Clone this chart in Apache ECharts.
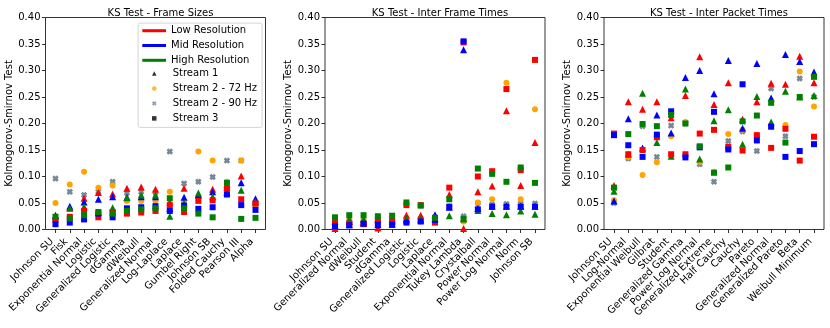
<!DOCTYPE html>
<html>
<head>
<meta charset="utf-8">
<script src="https://cdn.jsdelivr.net/npm/echarts@6/dist/echarts.min.js"></script>
<style>
html, body { margin: 0; padding: 0; background: #fff; }
#eChart { width: 830px; height: 328px; }
</style>
</head>
<body>
<div id="eChart"></div>
<script>
// --- Frame Sizes ---
var fsCats = ['Johnson SU', 'Fisk', 'Exponential Normal', 'Logistic', 'Generalized Logistic', 'dGamma', 'dWeibull',
  'Generalized Normal', 'Log-Laplace', 'Laplace', 'Gumbel Right', 'Johnson SB', 'Folded Cauchy', 'Pearson III', 'Alpha'];
var fsLowS1  = [0.025, 0.041, 0.059, 0.070, 0.067, 0.078, 0.080, 0.076, 0.052, 0.078, 0.064, 0.076, 0.080, 0.101, 0.055];
var fsLowS3  = [0.018, 0.024, 0.035, 0.023, 0.033, 0.030, 0.032, 0.035, 0.046, 0.033, 0.054, 0.055, 0.077, 0.057, 0.049];
var fsMidS1  = [0.027, 0.044, 0.052, 0.057, 0.062, 0.061, 0.062, 0.062, 0.040, 0.061, 0.066, 0.071, 0.070, 0.088, 0.058];
var fsMidS3  = [0.010, 0.013, 0.019, 0.030, 0.023, 0.040, 0.042, 0.044, 0.035, 0.045, 0.039, 0.042, 0.066, 0.046, 0.037];
var fsHighS1 = [0.024, 0.040, 0.043, 0.032, 0.041, 0.060, 0.065, 0.065, 0.025, 0.050, 0.069, 0.062, 0.085, 0.074, 0.052];
var fsHighS3 = [0.024, 0.021, 0.027, 0.033, 0.030, 0.035, 0.038, 0.040, 0.059, 0.040, 0.030, 0.023, 0.088, 0.020, 0.022];
var fs72Hz   = [0.050, 0.085, 0.109, 0.079, 0.083, 0.054, 0.054, 0.054, 0.071, 0.052, 0.147, 0.130, 0.090, 0.130, 0.045];
var fs90Hz   = [0.096, 0.071, 0.065, 0.071, 0.090, 0.069, 0.071, 0.070, 0.147, 0.087, 0.090, 0.099, 0.130, 0.130, 0.045];

// --- Inter Frame Times ---
var iftCats = ['Johnson SU', 'Generalized Normal', 'dWeibull', 'Student', 'dGamma', 'Generalized Logistic', 'Logistic',
  'Laplace', 'Exponential Normal', 'Tukey Lambda', 'Crystalball', 'Power Normal', 'Power Log Normal', 'Norm', 'Johnson SB'];
var iftLowS1  = [0.002, 0.015, 0.014, 0.003, 0.015, 0.027, 0.027, 0.022, 0.066, 0.002, 0.071, 0.082, 0.224, 0.083, 0.164];
var iftLowS3  = [0.012, 0.011, 0.010, 0.017, 0.016, 0.046, 0.046, 0.013, 0.079, 0.353, 0.100, 0.110, 0.265, 0.112, 0.320];
var iftMidS1  = [0.008, 0.009, 0.012, 0.009, 0.010, 0.018, 0.018, 0.028, 0.042, 0.339, 0.040, 0.044, 0.044, 0.044, 0.044];
var iftMidS3  = [0.006, 0.008, 0.011, 0.009, 0.009, 0.013, 0.015, 0.018, 0.043, 0.355, 0.038, 0.043, 0.043, 0.043, 0.043];
var iftHighS1 = [0.015, 0.020, 0.020, 0.020, 0.020, 0.020, 0.020, 0.020, 0.026, 0.020, 0.036, 0.030, 0.028, 0.035, 0.029];
var iftHighS3 = [0.023, 0.027, 0.027, 0.025, 0.026, 0.051, 0.045, 0.022, 0.057, 0.020, 0.115, 0.105, 0.090, 0.117, 0.088];
var ift72Hz   = [0.016, 0.019, 0.019, 0.017, 0.022, 0.022, 0.021, 0.024, 0.044, 0.015, 0.051, 0.057, 0.277, 0.057, 0.227];
var ift90Hz   = [0.012, 0.013, 0.013, 0.013, 0.014, 0.018, 0.019, 0.018, 0.041, 0.025, 0.050, 0.047, 0.048, 0.049, 0.049];

// --- Inter Packet Times ---
var iptCats = ['Johnson SU', 'Log-Normal', 'Exponential Weibull', 'Gilbrat', 'Student', 'Generalized Gamma', 'Power Log Normal',
  'Generalized Extreme', 'Half Cauchy', 'Cauchy', 'Pareto', 'Generalized Normal', 'Generalized Pareto', 'Beta', 'Weibull Minimum'];
var iptLowS1  = [0.083, 0.241, 0.227, 0.241, 0.211, 0.253, 0.326, 0.236, 0.277, 0.208, 0.241, 0.276, 0.274, 0.327, 0.277];
var iptLowS3  = [0.181, 0.142, 0.150, 0.174, 0.142, 0.142, 0.181, 0.188, 0.156, 0.149, 0.178, 0.154, 0.190, 0.130, 0.175];
var iptMidS1  = [0.054, 0.209, 0.154, 0.216, 0.182, 0.287, 0.300, 0.256, 0.319, 0.191, 0.313, 0.248, 0.330, 0.317, 0.297];
var iptMidS3  = [0.178, 0.159, 0.137, 0.179, 0.223, 0.136, 0.155, 0.222, 0.151, 0.274, 0.168, 0.194, 0.137, 0.148, 0.161];
var iptHighS1 = [0.072, 0.142, 0.257, 0.164, 0.138, 0.265, 0.133, 0.205, 0.226, 0.161, 0.251, 0.203, 0.261, 0.250, 0.253];
var iptHighS3 = [0.079, 0.180, 0.199, 0.195, 0.216, 0.200, 0.157, 0.107, 0.117, 0.204, 0.215, 0.239, 0.164, 0.250, 0.288];
var ipt72Hz   = [0.055, 0.137, 0.103, 0.127, 0.176, 0.203, 0.128, 0.109, 0.180, 0.188, 0.178, 0.194, 0.197, 0.298, 0.232];
var ipt90Hz   = [0.050, 0.134, 0.195, 0.137, 0.196, 0.200, 0.123, 0.090, 0.167, 0.185, 0.148, 0.266, 0.176, 0.285, 0.250];

var titles = ['KS Test - Frame Sizes', 'KS Test - Inter Frame Times', 'KS Test - Inter Packet Times'];

var RED = '#ff0000', BLUE = '#0000ff', GREEN = '#008000', ORANGE = '#ffa500', GRAY = '#778899';
var XMARK = 'path://M0,3L3,0L5,2L7,0L10,3L8,5L10,7L7,10L5,8L3,10L0,7L2,5Z';
var FONT = 'DejaVu Sans';

function drawChart() {
  var mainChart = echarts.init(document.getElementById('eChart'));

  var panels = [
    { cats: fsCats, left: 45.5, sets: [fs90Hz, fs72Hz, fsLowS1, fsMidS1, fsHighS1, fsLowS3, fsMidS3, fsHighS3] },
    { cats: iftCats, left: 325, sets: [ift90Hz, ift72Hz, iftLowS1, iftMidS1, iftHighS1, iftLowS3, iftMidS3, iftHighS3] },
    { cats: iptCats, left: 604, sets: [ipt90Hz, ipt72Hz, iptLowS1, iptMidS1, iptHighS1, iptLowS3, iptMidS3, iptHighS3] }
  ];
  var looks = [
    { symbol: XMARK, color: GRAY, size: 6.5 },
    { symbol: 'circle', color: ORANGE, size: 6 },
    { symbol: 'triangle', color: RED, size: 7 },
    { symbol: 'triangle', color: BLUE, size: 7 },
    { symbol: 'triangle', color: GREEN, size: 7 },
    { symbol: 'rect', color: RED, size: 6 },
    { symbol: 'rect', color: BLUE, size: 6 },
    { symbol: 'rect', color: GREEN, size: 6 }
  ];

  // matplotlib-like margins: frame 220 px wide, 15 categories, 0.7 step of padding each side
  var FRAME_W = 220;
  var step = FRAME_W / 15.4;
  var inset = 0.7 * step - step / 2;

  var grid = [], xAxis = [], yAxis = [], series = [], title = [];

  panels.forEach(function (p, i) {
    // data grid (categories centred in bands)
    grid.push({
      show: false,
      left: p.left + inset, top: 17.5, width: step * 15, height: 212
    });
    xAxis.push({
      gridIndex: i, type: 'category', data: p.cats, boundaryGap: true,
      axisLine: { show: false },
      axisTick: { show: true, alignWithLabel: true, interval: 0, length: 3.5, lineStyle: { color: '#000', width: 0.8 } },
      axisLabel: { show: false },
      splitLine: { show: false }
    });
    yAxis.push({
      gridIndex: i, type: 'value', min: 0, max: 0.4, interval: 0.05, offset: inset,
      name: 'Kolmogorov-Smirnov Test', nameLocation: 'middle', nameGap: 28,
      nameTextStyle: { fontSize: 10, color: '#000', fontFamily: FONT },
      axisLine: { show: false },
      axisTick: { show: true, length: 3.5, lineStyle: { color: '#000', width: 0.8 } },
      axisLabel: {
        margin: 5, fontSize: 10, color: '#000', fontFamily: FONT,
        formatter: function (v) { return v.toFixed(2); }
      },
      splitLine: { show: false }
    });
    title.push({
      text: titles[i], left: p.left + 110, top: 3.5, textAlign: 'center',
      textStyle: { fontSize: 10, fontWeight: 'normal', color: '#000', fontFamily: FONT }
    });
    p.sets.forEach(function (vals, j) {
      series.push({
        type: 'scatter', name: 'p' + i + 's' + j,
        xAxisIndex: i, yAxisIndex: i,
        symbol: looks[j].symbol, symbolSize: looks[j].size,
        itemStyle: { color: looks[j].color, opacity: 1 },
        data: vals
      });
    });
  });

  // frame grids (just the box around each panel)
  panels.forEach(function (p) {
    grid.push({
      show: true, borderColor: '#000', borderWidth: 0.8, backgroundColor: 'transparent',
      left: p.left, top: 17.5, width: FRAME_W, height: 212
    });
  });

  // dummy series for the legend
  [['Low Resolution', RED], ['Mid Resolution', BLUE], ['High Resolution', GREEN]].forEach(function (d) {
    series.push({ name: d[0], type: 'line', symbol: 'none', itemStyle: { color: d[1] }, lineStyle: { color: d[1], width: 3 }, data: [] });
  });
  series.push({ name: 'Stream 1', type: 'scatter', symbol: 'triangle', itemStyle: { color: '#000' }, data: [] });
  series.push({ name: 'Stream 2 - 72 Hz', type: 'scatter', symbol: 'circle', itemStyle: { color: ORANGE }, data: [] });
  series.push({ name: 'Stream 2 - 90 Hz', type: 'scatter', symbol: XMARK, itemStyle: { color: GRAY }, data: [] });
  series.push({ name: 'Stream 3', type: 'scatter', symbol: 'rect', itemStyle: { color: '#000' }, data: [] });

  var graphic = [{
    type: 'rect', left: 137.7, top: 22.7, z: 3,
    shape: { width: 124, height: 104.3, r: 2 },
    style: { fill: 'rgba(255,255,255,0.8)', stroke: '#cccccc', lineWidth: 0.8 }
  }];

  var option = {
    animation: false,
    title: title,
    graphic: graphic,
    legend: [
      {
        orient: 'vertical', left: 142.3, top: 24.7, padding: 0, itemGap: 2.8,
        itemWidth: 23.7, itemHeight: 3, selectedMode: false,
        textStyle: { fontSize: 10, color: '#000', fontFamily: FONT, lineHeight: 12 },
        data: [
          { name: 'Low Resolution', icon: 'rect' },
          { name: 'Mid Resolution', icon: 'rect' },
          { name: 'High Resolution', icon: 'rect' }
        ]
      },
      {
        orient: 'vertical', left: 152, top: 67.4, padding: 0, itemGap: 3,
        itemWidth: 4.5, itemHeight: 4.5, selectedMode: false,
        textStyle: { fontSize: 10, color: '#000', fontFamily: FONT, lineHeight: 12, padding: [0, 0, 0, 11.2] },
        data: ['Stream 1', 'Stream 2 - 72 Hz', 'Stream 2 - 90 Hz', 'Stream 3']
      }
    ],
    grid: grid,
    xAxis: xAxis,
    yAxis: yAxis,
    series: series
  };

  mainChart.setOption(option);

  // rotated category labels, anchored at each tick (right end of the text at the tick)
  panels.forEach(function (p, i) {
    p.cats.forEach(function (name, k) {
      var pt = mainChart.convertToPixel({ xAxisIndex: i, yAxisIndex: i }, [k, 0]);
      graphic.push({
        type: 'text', x: pt[0] - 3.5, y: pt[1] + 10.5, rotation: Math.PI / 4,
        style: { text: name, align: 'right', verticalAlign: 'middle', fontSize: 10, fill: '#000', fontFamily: FONT }
      });
    });
  });
  mainChart.setOption({ graphic: graphic });
}

drawChart();
</script>
</body>
</html>
